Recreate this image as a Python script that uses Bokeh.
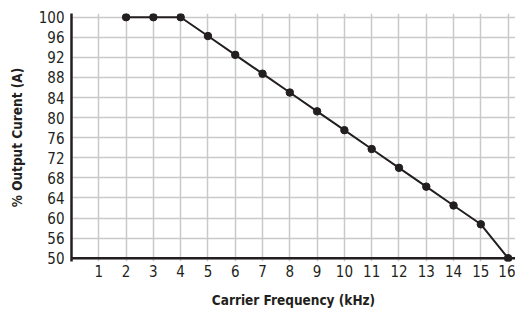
from bokeh.plotting import figure
from bokeh.models import Range1d, FixedTicker, Span
from bokeh.embed import file_html
from bokeh.resources import INLINE

# Data
freq_khz = [2, 3, 4, 5, 6, 7, 8, 9, 10, 11, 12, 13, 14, 15, 16]
output_current = [100, 100, 100, 96.25, 92.5, 88.75, 85, 81.25, 77.5, 73.75, 70, 66.25, 62.5, 58.75, 50]
x_ticks = list(range(1, 17))
y_tick_values = [50, 56, 60, 64, 68, 72, 76, 80, 84, 88, 92, 96, 100]

# The value axis is broken below 56: the 50 tick sits one tick step under 56.
def axis_scale(v):
    if v >= 56:
        return v
    return 56 - (56 - v) * 4.0 / 6.0

y_pos = [axis_scale(v) for v in output_current]
y_tick_pos = [axis_scale(v) for v in y_tick_values]

FONT = "DejaVu Sans Condensed"
DARK = "#231f20"

p = figure(width=515, height=314, output_backend="svg", toolbar_location=None,
           x_range=Range1d(0, 16.27), y_range=Range1d(51.34, 100.74),
           min_border_left=71, min_border_right=0, min_border_top=13, min_border_bottom=53)
p.outline_line_color = None
p.background_fill_color = "white"

# grid
p.xgrid.ticker = FixedTicker(ticks=x_ticks)
p.ygrid.ticker = FixedTicker(ticks=y_tick_pos)
for g in (p.xgrid, p.ygrid):
    g.grid_line_color = "#c9c9c9"
    g.grid_line_width = 1.5

# x axis
xa = p.xaxis[0]
xa.ticker = FixedTicker(ticks=x_ticks)
xa.axis_line_color = None
xa.major_tick_line_color = None
xa.major_tick_out = 0
xa.major_tick_in = 0
xa.minor_tick_line_color = None
xa.minor_tick_out = 0
xa.major_label_text_font = FONT
xa.major_label_text_font_size = "15px"
xa.major_label_text_color = DARK
xa.major_label_standoff = 3
xa.axis_label = "Carrier Frequency (kHz)"
xa.axis_label_text_font = FONT
xa.axis_label_text_font_style = "bold"
xa.axis_label_text_font_size = "13.5px"
xa.axis_label_text_color = DARK
xa.axis_label_standoff = 12

# y axis
ya = p.yaxis[0]
ya.ticker = FixedTicker(ticks=y_tick_pos)
ya.major_label_overrides = {pos: str(v) for pos, v in zip(y_tick_pos, y_tick_values)}
ya.axis_line_color = DARK
ya.axis_line_width = 2.5
ya.major_tick_line_color = None
ya.major_tick_out = 0
ya.major_tick_in = 0
ya.minor_tick_line_color = None
ya.minor_tick_out = 0
ya.major_label_text_font = FONT
ya.major_label_text_font_size = "15px"
ya.major_label_text_color = DARK
ya.major_label_standoff = 7
ya.axis_label = "% Output Curent (A)"
ya.axis_label_text_font = FONT
ya.axis_label_text_font_style = "bold"
ya.axis_label_text_font_size = "13.5px"
ya.axis_label_text_color = DARK
ya.axis_label_standoff = 11

# bottom axis line at the 50 level
p.add_layout(Span(location=axis_scale(50), dimension="width", line_color=DARK, line_width=2.5))

p.line(freq_khz, y_pos, line_color=DARK, line_width=2)
p.scatter(freq_khz, y_pos, size=7.5, fill_color=DARK, line_color=DARK)

open("out.html", "w").write(file_html(p, INLINE))
